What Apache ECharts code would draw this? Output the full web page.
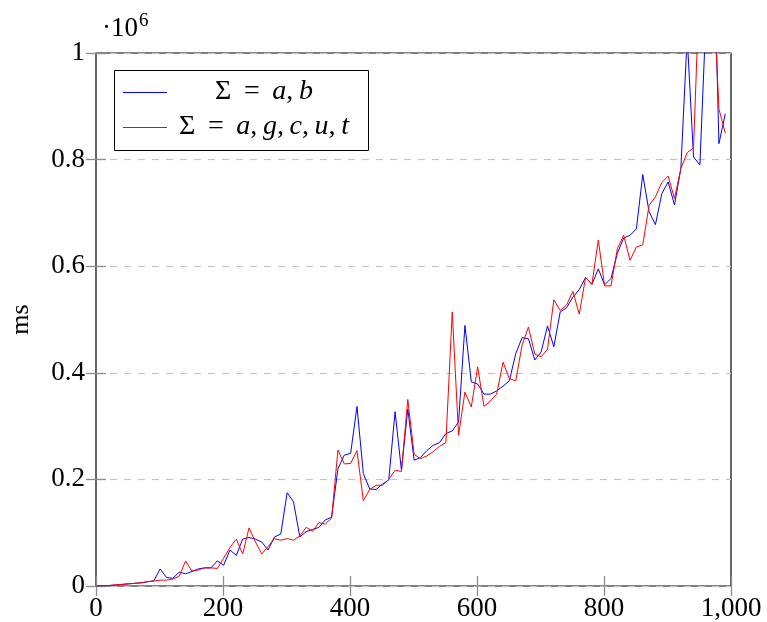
<!DOCTYPE html>
<html>
<head>
<meta charset="utf-8">
<script src="https://cdn.jsdelivr.net/npm/echarts@6/dist/echarts.min.js"></script>
<style>
  html, body { margin: 0; padding: 0; background: #fff; }
  #chart { width: 767px; height: 622px; }
</style>
</head>
<body>
<div id="chart"></div>
<script>
// x positions (sample sizes)
var xs = [1, 11, 21, 31, 41, 51, 61, 71, 81, 91,
  101, 111, 121, 131, 141, 151, 161, 171, 181, 191,
  201, 211, 221, 231, 241, 251, 261, 271, 281, 291,
  301, 311, 321, 331, 341, 351, 361, 371, 381, 391,
  401, 411, 421, 431, 441, 451, 461, 471, 481, 491,
  501, 511, 521, 531, 541, 551, 561, 571, 581, 591,
  601, 611, 621, 631, 641, 651, 661, 671, 681, 691,
  701, 711, 721, 731, 741, 751, 761, 771, 781, 791,
  801, 811, 821, 831, 841, 851, 861, 871, 881, 891,
  901, 911, 921, 931, 941, 951, 961, 971, 981, 991];

// Σ = a,b  (ms)
var sigmaAB = [0, 500, 1000, 2000, 3000, 4000, 5000, 6000, 8000, 9400,
  32000, 16000, 14500, 26000, 23000, 27000, 32000, 34000, 34000, 47000,
  39000, 67500, 57500, 88000, 91000, 88000, 82500, 67500, 92000, 97500,
  175000, 158000, 92000, 102000, 106000, 110000, 124000, 129000, 220000, 245500,
  249000, 337000, 211000, 182000, 181000, 191000, 199000, 327000, 217000, 332000,
  236000, 241000, 254000, 264000, 269000, 286000, 291000, 308000, 489000, 383000,
  379000, 360000, 360000, 366000, 375000, 385000, 436000, 466000, 464000, 424000,
  439000, 488000, 449000, 514000, 522000, 542000, 556000, 579000, 566000, 595000,
  565000, 577000, 624000, 653000, 658000, 670000, 772000, 702000, 678000, 736000,
  758000, 715000, 783000, 1030000, 805000, 790000, 1080000, 1300000, 830000, 886000];

// Σ = a,g,c,u,t  (ms)
var sigmaAGCUT = [0, 500, 1000, 2000, 3000, 4000, 5000, 6000, 8000, 9400,
  11000, 11000, 13000, 18000, 47000, 28000, 30000, 34000, 34000, 33000,
  52000, 72500, 88000, 60000, 109000, 83000, 60000, 74000, 88700, 86000,
  89000, 86000, 94000, 110000, 102500, 119000, 116000, 127000, 255000, 229000,
  230000, 254000, 160000, 181000, 189000, 189000, 200000, 217000, 215000, 350000,
  247000, 239000, 244000, 252000, 262000, 269000, 514000, 283000, 364000, 336000,
  411000, 337000, 347000, 360000, 420000, 389000, 385000, 452000, 486000, 435000,
  430000, 444000, 537000, 517000, 527000, 553000, 510000, 579000, 566000, 649000,
  563000, 563000, 633000, 658000, 611000, 636000, 640000, 714000, 730000, 757000,
  769000, 727000, 783000, 813000, 822000, 1150000, 1250000, 1150000, 895000, 850000];

var FONT = 'Liberation Serif';

function pairs(vals) {
  var out = [];
  for (var i = 0; i < xs.length; i++) {
    out.push([xs[i], vals[i]]);
  }
  return out;
}

var chart = echarts.init(document.getElementById('chart'));

var tickStyle = { show: true, inside: true, length: 10, lineStyle: { color: '#8c8c8c', width: 1.3 } };
var legendRich = {
  n: { fontFamily: FONT, fontSize: 28, fill: '#000' },
  i: { fontFamily: FONT, fontSize: 28, fontStyle: 'italic', fill: '#000' }
};

var option = {
  animation: false,
  backgroundColor: '#fff',
  grid: {
    left: 95, right: 36, top: 53, bottom: 36,
    show: true, borderColor: '#000', borderWidth: 1.2, backgroundColor: 'transparent'
  },
  xAxis: [
    {
      type: 'value', min: 0, max: 1000, interval: 200,
      axisLine: { show: false },
      axisTick: tickStyle,
      splitLine: { show: false },
      axisLabel: {
        margin: 9, color: '#000', fontFamily: FONT, fontSize: 27,
        formatter: function (v) { return v === 1000 ? '1,000' : String(v); }
      }
    },
    {
      type: 'value', min: 0, max: 1000, interval: 200, position: 'top',
      axisLine: { show: false }, axisTick: tickStyle,
      axisLabel: { show: false }, splitLine: { show: false }
    }
  ],
  yAxis: [
    {
      type: 'value', min: 0, max: 1000000, interval: 200000,
      name: 'ms', nameLocation: 'middle', nameGap: 62,
      nameTextStyle: { color: '#000', fontFamily: FONT, fontSize: 26 },
      axisLine: { show: false },
      axisTick: tickStyle,
      splitLine: { show: true, lineStyle: { color: '#c4c4c4', width: 1.2, type: [7, 7] } },
      axisLabel: {
        margin: 11, color: '#000', fontFamily: FONT, fontSize: 27,
        formatter: function (v) { return String(v / 1000000); }
      }
    },
    {
      type: 'value', min: 0, max: 1000000, interval: 200000, position: 'right',
      axisLine: { show: false }, axisTick: tickStyle,
      axisLabel: { show: false }, splitLine: { show: false }
    }
  ],
  series: [
    {
      name: 'Σ = a, b', type: 'line', data: pairs(sigmaAB),
      showSymbol: false, clip: true,
      lineStyle: { color: '#0000ff', width: 1 }, itemStyle: { color: '#0000ff' }
    },
    {
      name: 'Σ = a, g, c, u, t', type: 'line', data: pairs(sigmaAGCUT),
      showSymbol: false, clip: true,
      lineStyle: { color: '#ff0000', width: 1 }, itemStyle: { color: '#ff0000' }
    }
  ],
  graphic: [
    // ·10^6 multiplier
    { type: 'text', left: 102, top: 15,
      style: { text: '·10', fontFamily: FONT, fontSize: 27, fill: '#000' } },
    { type: 'text', left: 139, top: 12,
      style: { text: '6', fontFamily: FONT, fontSize: 19, fill: '#000' } },
    // legend box
    { type: 'rect', shape: { x: 114.5, y: 70.5, width: 254, height: 80 },
      style: { fill: '#fff', stroke: '#000', lineWidth: 1 }, z: 100 },
    { type: 'line', shape: { x1: 123, y1: 92.5, x2: 167, y2: 92.5 },
      style: { stroke: '#0000ff', lineWidth: 1 }, z: 101 },
    { type: 'line', shape: { x1: 123, y1: 127.5, x2: 167, y2: 127.5 },
      style: { stroke: '#ff0000', lineWidth: 1 }, z: 101 },
    { type: 'text', z: 101,
      style: {
        x: 264, y: 92, align: 'center', verticalAlign: 'middle',
        text: '{n|Σ \u2009=\u2009 }{i|a}{n|,\u2009}{i|b}',
        rich: legendRich
      } },
    { type: 'text', z: 101,
      style: {
        x: 264, y: 127, align: 'center', verticalAlign: 'middle',
        text: '{n|Σ \u2009=\u2009 }{i|a}{n|,\u2009}{i|g}{n|,\u2009}{i|c}{n|,\u2009}{i|u}{n|,\u2009}{i|t}',
        rich: legendRich
      } }
  ]
};

chart.setOption(option);
</script>
</body>
</html>
